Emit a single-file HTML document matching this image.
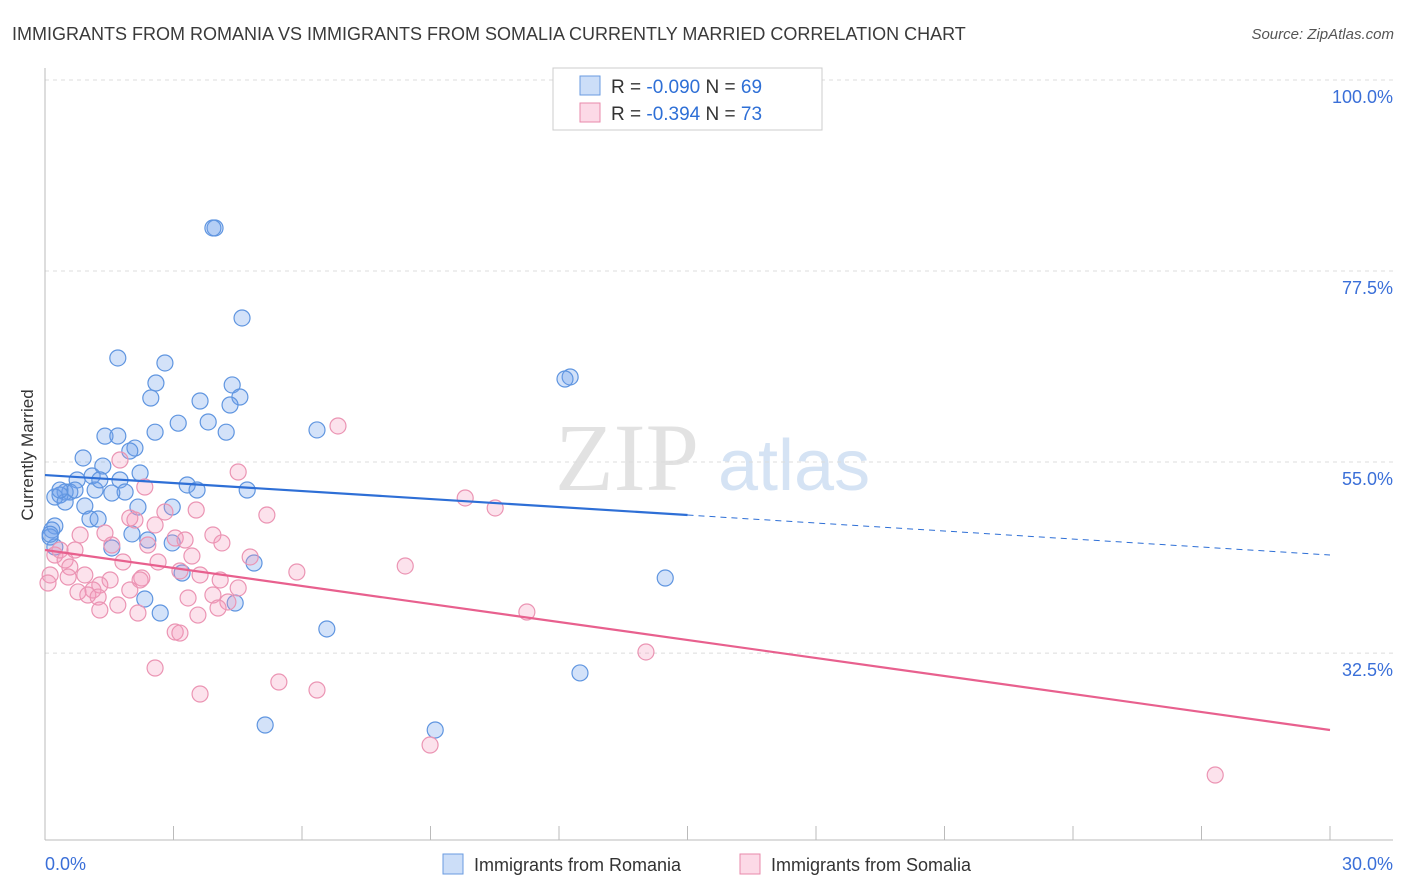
<!DOCTYPE html>
<html><head><meta charset="utf-8"><style>
body{margin:0;background:#fff;font-family:"Liberation Sans",sans-serif;}
svg{display:block}
</style></head><body>
<svg id="chart" width="1406" height="892">
<text x="12" y="40" font-size="18" fill="#3a3a3a">IMMIGRANTS FROM ROMANIA VS IMMIGRANTS FROM SOMALIA CURRENTLY MARRIED CORRELATION CHART</text>
<text x="1394" y="39" font-size="15" fill="#555" text-anchor="end" font-style="italic">Source: ZipAtlas.com</text>
<g>
<text x="555" y="490" font-size="96" fill="#e2e2e2" font-family="Liberation Serif,serif">ZIP</text>
<text x="718" y="490" font-size="72" fill="#d5e3f4">atlas</text>
</g>
<g id="grid"></g>
<g id="axes"></g>
<g id="blue"></g>
<g id="pink"></g>
<g id="trends"></g>
<g>
<rect x="553" y="68" width="269" height="62" fill="#fff" stroke="#ccc"/>
<rect x="580" y="76" width="20" height="19" fill="rgba(110,160,235,0.35)" stroke="#6a9be0"/>
<rect x="580" y="103" width="20" height="19" fill="rgba(245,150,185,0.35)" stroke="#e88aab"/>
<text x="611" y="93" font-size="19" fill="#333">R = <tspan fill="#2e6fd6">-0.090</tspan>   N = <tspan fill="#2e6fd6">69</tspan></text>
<text x="611" y="120" font-size="19" fill="#333">R =  <tspan fill="#2e6fd6">-0.394</tspan>   N = <tspan fill="#2e6fd6">73</tspan></text>
</g>
<text transform="translate(33,455) rotate(-90)" font-size="17" fill="#333" text-anchor="middle">Currently Married</text>
<g>
<rect x="443" y="854" width="20" height="20" fill="rgba(110,160,235,0.35)" stroke="#6a9be0"/>
<text x="474" y="871" font-size="18" fill="#333">Immigrants from Romania</text>
<rect x="740" y="854" width="20" height="20" fill="rgba(245,150,185,0.35)" stroke="#e88aab"/>
<text x="771" y="871" font-size="18" fill="#333">Immigrants from Somalia</text>
</g>
</svg>
<script>
const blueX=[3.97,3.92,4.60,1.70,2.80,2.59,4.37,2.47,4.55,3.62,4.32,12.26,12.14,3.11,3.81,2.57,1.40,1.70,4.23,6.35,2.10,1.98,0.89,1.35,1.10,2.22,0.75,1.75,1.17,1.87,1.56,0.58,0.47,0.35,0.23,0.47,3.32,3.55,4.72,0.93,2.17,2.97,1.05,1.24,0.23,0.16,0.12,2.03,2.40,2.97,1.56,0.23,4.88,3.20,14.48,2.33,4.44,2.69,6.58,12.49,5.14,9.11,0.12,0.35,0.70,1.28];
const blueY=[82.57,82.57,71.97,67.26,66.67,64.31,64.08,62.54,62.66,62.19,61.72,65.02,64.78,59.58,59.72,58.52,58.05,58.07,58.52,58.78,56.65,56.30,55.48,54.53,53.36,53.71,52.89,52.89,51.71,51.47,51.35,51.47,51.47,51.12,50.88,50.29,52.30,51.71,51.71,49.82,49.70,49.70,48.29,48.29,47.47,47.0,46.17,46.53,45.82,45.47,44.88,44.99,43.11,41.93,41.34,38.87,38.40,37.22,35.34,30.16,24.03,23.44,46.5,51.7,51.7,52.9];
const pinkX=[6.84,4.51,1.75,2.33,9.81,10.51,5.18,2.10,2.80,3.53,2.57,1.98,0.82,1.40,3.04,3.27,3.92,2.40,4.13,0.23,0.35,0.70,0.47,0.58,1.82,2.64,4.79,3.43,5.88,8.41,0.12,0.07,0.54,0.93,1.52,2.26,3.15,3.62,4.09,1.28,1.12,0.77,1.00,1.24,1.98,3.34,3.92,4.51,4.27,4.04,1.70,1.28,2.17,3.57,3.04,3.15,11.25,14.03,2.57,3.62,5.46,6.35,8.99,27.32,1.56,2.22];
const pinkY=[59.25,53.83,55.24,52.06,50.77,49.59,48.76,48.17,49.12,49.35,47.59,48.41,46.41,46.64,46.05,45.82,46.41,45.23,45.47,44.05,44.64,44.64,43.46,42.64,43.23,43.23,43.82,43.93,42.05,42.76,41.70,40.75,41.46,41.70,41.11,41.34,42.17,41.70,41.11,40.52,39.93,39.70,39.34,39.10,39.93,38.99,39.34,40.17,38.52,37.81,38.16,37.57,37.22,36.98,34.98,34.86,37.34,32.63,30.74,27.68,29.09,28.15,21.67,18.14,45.23,41.11];
const yTicks=[100,77.5,55,32.5];
const yTickLabels=["100.0%","77.5%","55.0%","32.5%"];
const blueTrend=[53.47,44.05];const blueSolidEnd=15;
const pinkTrend=[44.64,23.44];
const X0=45,X1=1330,XMAX=30;
const sx=v=>X0+v*(X1-X0)/XMAX;
const sy=v=>80+(100-v)*8.49;
const NS="http://www.w3.org/2000/svg";
function mk(p,tag,at){const e=document.createElementNS(NS,tag);for(const k in at)e.setAttribute(k,at[k]);p.appendChild(e);return e;}
const grid=document.getElementById('grid'),axes=document.getElementById('axes');
yTicks.forEach((t,i)=>{
 const l=mk(grid,'line',{x1:45,x2:1393,y1:sy(t),y2:sy(t),stroke:'#dcdcdc','stroke-dasharray':'4,4'});
 
 
 const tx=mk(axes,'text',{x:1393,y:sy(t)+23,'text-anchor':'end','font-size':18,fill:'#3a6fd8'});
 tx.textContent=yTickLabels[i];
 
 
});
mk(axes,'line',{x1:45,x2:45,y1:68,y2:840,stroke:'#bbb'});
mk(axes,'line',{x1:45,x2:1393,y1:840,y2:840,stroke:'#bbb'});
for(let i=0;i<=10;i++){const x=sx(i*3);const t=mk(axes,'line',{x1:x,x2:x,y1:826,y2:840,stroke:'#bbb'});
 
 }
const xl=mk(axes,'text',{x:45,y:870,'font-size':18,fill:'#3a6fd8'});xl.textContent='0.0%';


const xr=mk(axes,'text',{x:1393,y:870,'font-size':18,fill:'#3a6fd8','text-anchor':'end'});xr.textContent='30.0%';


const bg=document.getElementById('blue');
blueX.forEach((x,i)=>{const c=mk(bg,'circle',{cx:sx(x),cy:sy(blueY[i]),r:8,fill:'rgba(110,160,235,0.3)',stroke:'#5f95e0','stroke-width':1.2});
 
 });
const pg=document.getElementById('pink');
pinkX.forEach((x,i)=>{const c=mk(pg,'circle',{cx:sx(x),cy:sy(pinkY[i]),r:8,fill:'rgba(245,150,185,0.28)',stroke:'#eb94b3','stroke-width':1.2});
 
 });
const tr=document.getElementById('trends');
const bAt=x=>blueTrend[0]+(blueTrend[1]-blueTrend[0])*x/XMAX;
const l1=mk(tr,'line',{x1:sx(0),y1:sy(bAt(0)),x2:sx(blueSolidEnd),y2:sy(bAt(blueSolidEnd)),stroke:'#2e6fd6','stroke-width':2.2});


const l2=mk(tr,'line',{x1:sx(blueSolidEnd),y1:sy(bAt(blueSolidEnd)),x2:sx(XMAX),y2:sy(bAt(XMAX)),stroke:'#2e6fd6','stroke-width':1,'stroke-dasharray':'6,5'});


const l3=mk(tr,'line',{x1:sx(0),y1:sy(pinkTrend[0]),x2:sx(XMAX),y2:sy(pinkTrend[1]),stroke:'#e8608e','stroke-width':2.2});


</script>
</body></html>
